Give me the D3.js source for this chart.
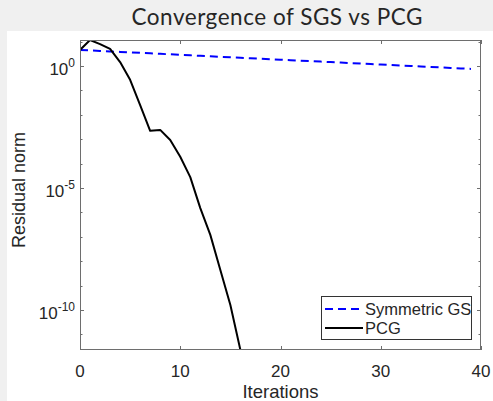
<!DOCTYPE html>
<style>
  body { margin: 0; background: #f0f0f0; }
  text { font-family: "Liberation Sans", Arial, sans-serif; fill: #262626; }
</style>
<svg id="chart" width="493" height="401"></svg>
<script src="https://d3js.org/d3.v7.min.js"></script>
<script>

// iterations 0..39 for symmetric Gauss-Seidel, 0..16 for PCG
var sgsResidual = [4.53, 4.33, 4.13, 3.94, 3.77, 3.60, 3.44, 3.29, 3.14, 3.00,
                   2.86, 2.74, 2.61, 2.50, 2.38, 2.28, 2.18, 2.08, 1.99, 1.90,
                   1.81, 1.73, 1.65, 1.58, 1.51, 1.44, 1.38, 1.31, 1.26, 1.20,
                   1.15, 1.09, 1.04, 1.00, 0.95, 0.91, 0.87, 0.83, 0.79, 0.76];
var pcgResidual = [4.53, 11.6, 7.9, 5.0, 1.45, 0.27, 0.025, 2.2e-3, 2.4e-3, 9.3e-4,
                   1.9e-4, 2.8e-5, 1.5e-6, 1.2e-7, 4.4e-9, 1.6e-10, 2.3e-12];
var xTicks = [0, 10, 20, 30, 40];
var yTickExp = [0, -5, -10];
var legendLabels = ["Symmetric GS", "PCG"];

var svg = d3.select("#chart");
var plotL = 80, plotR = 481, plotT = 40, plotB = 350;

svg.append("rect").attr("x", 7).attr("y", 31).attr("width", 486).attr("height", 370).attr("fill", "#fff");

var x = d3.scaleLinear().domain([0, 40]).range([plotL, plotR]);
var y = d3.scaleLog().domain(d3.extent(pcgResidual)).range([plotB, plotT]);

svg.append("clipPath").attr("id", "clip")
  .append("rect").attr("x", plotL).attr("y", plotT).attr("width", plotR - plotL).attr("height", plotB - plotT);

// minor ticks every decade, major every five
var decades = d3.range(Math.ceil(Math.log10(y.domain()[0])), Math.floor(Math.log10(y.domain()[1])) + 1);
var axisColor = "#6e6e6e";
var g = svg.append("g").attr("stroke", axisColor).attr("stroke-width", 1);

decades.forEach(function (e) {
  var len = e % 5 === 0 ? 4 : 2.5;
  var yy = Math.round(y(Math.pow(10, e))) + 0.5;
  g.append("line").attr("x1", plotL).attr("x2", plotL + len).attr("y1", yy).attr("y2", yy);
  g.append("line").attr("x1", plotR).attr("x2", plotR - len).attr("y1", yy).attr("y2", yy);
});
xTicks.forEach(function (t) {
  var xx = Math.round(x(t)) + 0.5;
  g.append("line").attr("x1", xx).attr("x2", xx).attr("y1", plotB).attr("y2", plotB - 4);
  g.append("line").attr("x1", xx).attr("x2", xx).attr("y1", plotT).attr("y2", plotT + 4);
});

// data lines
var line = d3.line().x(function (d, i) { return x(i); }).y(function (d) { return y(d); });
var plot = svg.append("g").attr("clip-path", "url(#clip)").attr("fill", "none");
plot.append("path").datum(sgsResidual).attr("d", line)
  .attr("stroke", "#0000ff").attr("stroke-width", 2).attr("stroke-dasharray", "8,5");
plot.append("path").datum(pcgResidual).attr("d", line)
  .attr("stroke", "#000").attr("stroke-width", 2).attr("stroke-linejoin", "round");

// box
svg.append("rect").attr("x", plotL + 0.5).attr("y", plotT + 0.5)
  .attr("width", plotR - plotL - 1).attr("height", plotB - plotT - 1)
  .attr("fill", "none").attr("stroke", axisColor).attr("stroke-width", 1);

// tick labels
svg.selectAll(".xt").data(xTicks).enter().append("text")
  .attr("x", function (d) { return x(d); }).attr("y", 377)
  .attr("text-anchor", "middle").style("font-size", "17px")
  .text(function (d) { return d; });

var yl = svg.selectAll(".yt").data(yTickExp).enter().append("text")
  .attr("x", 75).attr("y", function (d) { return y(Math.pow(10, d)) + 9; })
  .attr("text-anchor", "end").style("font-size", "17px");
yl.append("tspan").text("10");
yl.append("tspan").attr("dy", -8).style("font-size", "12px").text(function (d) { return d; });

// labels
svg.append("text").attr("x", (plotL + plotR) / 2).attr("y", 398)
  .attr("text-anchor", "middle").style("font-size", "18.5px").text("Iterations");
svg.append("text").attr("transform", "translate(25,190) rotate(-90)")
  .attr("text-anchor", "middle").style("font-size", "18px").text("Residual norm");
svg.append("text").attr("x", 277).attr("y", 25)
  .attr("text-anchor", "middle").style("font-family", "Lato, sans-serif")
  .style("font-size", "22.5px").attr("textLength", 291).attr("lengthAdjust", "spacing")
  .text("Convergence of SGS vs PCG");

// legend
var leg = svg.append("g");
leg.append("rect").attr("x", 321.5).attr("y", 296.5).attr("width", 150).attr("height", 43)
  .attr("fill", "#fff").attr("stroke", "#333").attr("stroke-width", 1);
var styles = [{ c: "#0000ff", dash: "8,5" }, { c: "#000", dash: null }];
legendLabels.forEach(function (name, i) {
  var yy = 309 + i * 19;
  leg.append("line").attr("x1", 325).attr("x2", 363).attr("y1", yy).attr("y2", yy)
    .attr("stroke", styles[i].c).attr("stroke-width", 2).attr("stroke-dasharray", styles[i].dash);
  leg.append("text").attr("x", 365).attr("y", yy + 6).style("font-size", "16.5px").text(name);
});

</script>
